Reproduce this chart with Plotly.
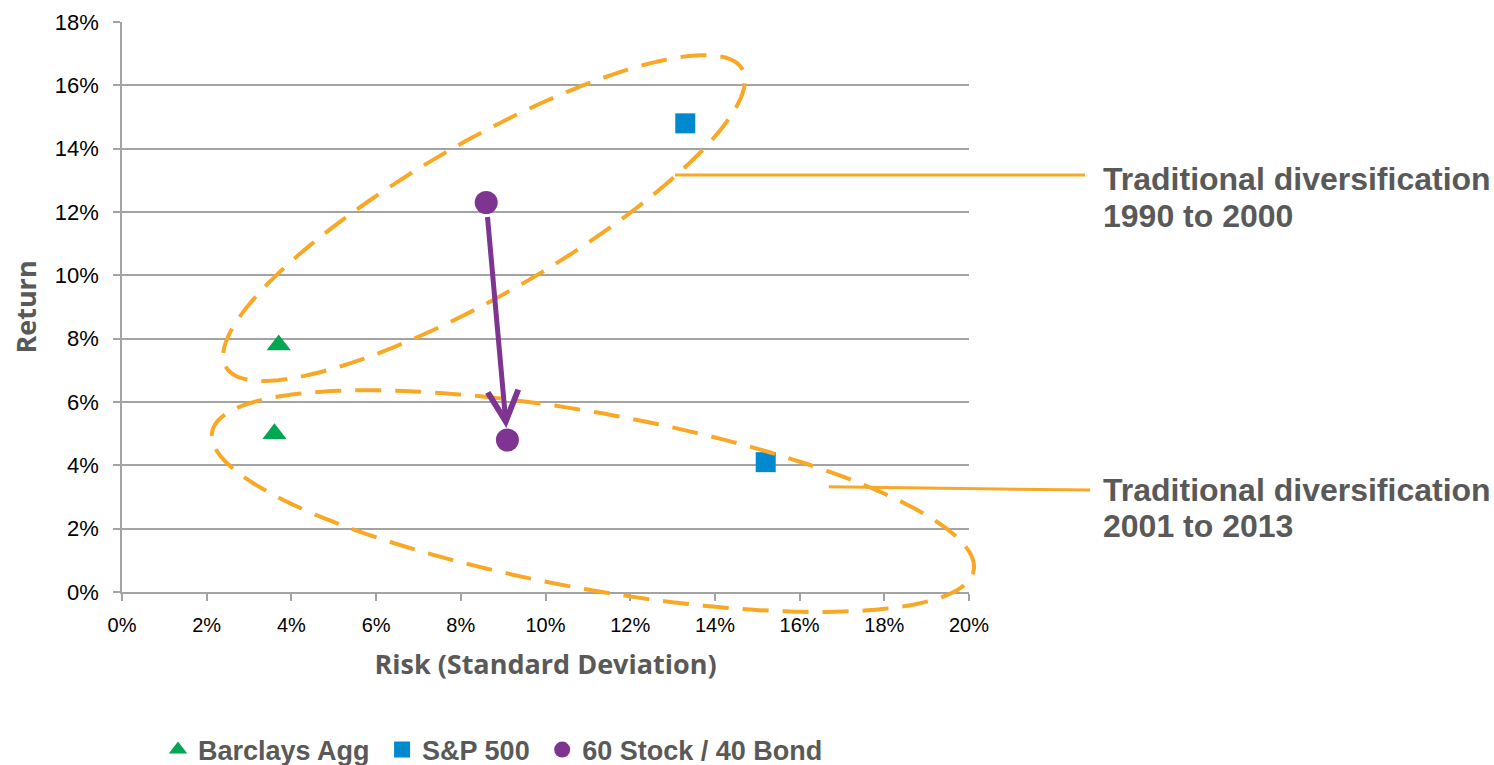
import numpy as np
import plotly.graph_objects as go

# Annualised risk (standard deviation, %) and return (%) for each asset,
# first point = 1990 to 2000, second point = 2001 to 2013
barclays_risk = [3.7, 3.6]
barclays_return = [7.8, 5.0]
sp500_risk = [13.3, 15.2]
sp500_return = [14.8, 4.1]
mix_risk = [8.6, 9.1]
mix_return = [12.3, 4.8]

x_tick_values = [0, 2, 4, 6, 8, 10, 12, 14, 16, 18, 20]
y_tick_values = [0, 2, 4, 6, 8, 10, 12, 14, 16, 18]
x_tick_labels = [f"{v}%" for v in x_tick_values]
y_tick_labels = [f"{v}%" for v in y_tick_values]

period_labels = ["Traditional diversification", "1990 to 2000",
                 "Traditional diversification", "2001 to 2013"]

# Page geometry
W, H = 1494, 765
M_L, M_R, M_T, M_B = 122, 525, 22, 173
PW, PH = W - M_L - M_R, H - M_T - M_B
X_MAX, Y_MAX = 20, 18

GREEN = "#00A651"
BLUE = "#0089CF"
PURPLE = "#7E3591"
ORANGE = "#F9A825"
GRID = "#A3A3A3"
TEXT_GREY = "#595959"
NBSP = "\u00a0"


def to_paper(x, y):
    return x / X_MAX, y / Y_MAX


def px_to_paper(px, py):
    return (px - M_L) / PW, (M_T + PH - py) / PH


def ellipse_path(cx, cy, a_px, b_px, angle_deg, n=240):
    """Closed SVG path (paper coords) of an ellipse centred on a data point,
    with semi-axes given in screen pixels and a screen rotation angle."""
    t = np.linspace(0, 2 * np.pi, n)
    phi = np.radians(angle_deg)
    dx = a_px * np.cos(t) * np.cos(phi) - b_px * np.sin(t) * np.sin(phi)
    dy = a_px * np.cos(t) * np.sin(phi) + b_px * np.sin(t) * np.cos(phi)
    px0, py0 = to_paper(cx, cy)
    xs = px0 + dx / PW
    ys = py0 + dy / PH
    pts = [f"{x:.5f},{y:.5f}" for x, y in zip(xs, ys)]
    return "M" + " L".join(pts) + " Z"


fig = go.Figure()

fig.add_trace(go.Scatter(
    x=barclays_risk, y=barclays_return, mode="markers",
    name="Barclays Agg" + NBSP,
    marker=dict(symbol="triangle-up", size=21, color=GREEN),
))
fig.add_trace(go.Scatter(
    x=sp500_risk, y=sp500_return, mode="markers", name="S&P 500" + NBSP,
    marker=dict(symbol="square", size=20, color=BLUE),
))
fig.add_trace(go.Scatter(
    x=mix_risk, y=mix_return, mode="markers", name="60 Stock / 40 Bond",
    marker=dict(symbol="circle", size=23, color=PURPLE),
))

# Dashed rings around each period's cluster
shapes = [
    dict(type="path", xref="paper", yref="paper",
         path=ellipse_path(8.55, 11.81, 298, 76, 30),
         line=dict(color=ORANGE, width=4, dash="26px,14px")),
    dict(type="path", xref="paper", yref="paper",
         path=ellipse_path(11.12, 2.87, 387, 88, -10.3),
         line=dict(color=ORANGE, width=4, dash="26px,14px")),
]

# Callout leader lines
callouts = [((13.06, 13.17), (22.74, 13.17)), ((16.69, 3.32), (22.86, 3.22))]
for (x0, y0), (x1, y1) in callouts:
    p0 = to_paper(x0, y0)
    p1 = to_paper(x1, y1)
    shapes.append(dict(type="line", xref="paper", yref="paper",
                       x0=p0[0], y0=p0[1], x1=p1[0], y1=p1[1],
                       line=dict(color=ORANGE, width=3)))

annotations = []
label_px_y = [179, 216, 490, 526]
for txt, ly in zip(period_labels, label_px_y):
    ax_, ay_ = px_to_paper(1101, ly)
    annotations.append(dict(
        x=ax_, y=ay_, xref="paper", yref="paper", text=f"<b>{txt}</b>",
        showarrow=False, xanchor="left", yanchor="middle",
        font=dict(family="Liberation Sans, Arial", size=32, color=TEXT_GREY),
    ))

# Shift of the 60/40 portfolio between the two periods
annotations.append(dict(
    x=mix_risk[1], y=mix_return[1], ax=mix_risk[0], ay=mix_return[0],
    xref="x", yref="y", axref="x", ayref="y", text="",
    showarrow=True, arrowhead=5, arrowsize=1.2, arrowwidth=5,
    arrowcolor=PURPLE, standoff=12, startstandoff=13,
))

lx, ly = px_to_paper(158, 750)
fig.update_layout(
    width=W, height=H,
    margin=dict(l=M_L, r=M_R, t=M_T, b=M_B, autoexpand=False),
    paper_bgcolor="white", plot_bgcolor="white",
    shapes=shapes, annotations=annotations,
    showlegend=True,
    legend=dict(
        orientation="h", x=lx, xanchor="left",
        y=ly, yanchor="middle",
        font=dict(family="Liberation Sans, Arial", size=27, color=TEXT_GREY,
                  weight="bold"),
        itemwidth=30, bgcolor="rgba(0,0,0,0)",
    ),
    xaxis=dict(
        range=[0, X_MAX], tickvals=x_tick_values, ticktext=x_tick_labels,
        showgrid=False, zeroline=False, showline=True, linecolor=GRID,
        linewidth=1.5, ticks="outside", ticklen=7, tickcolor=GRID,
        tickwidth=1.5, ticklabelstandoff=7,
        tickfont=dict(family="Liberation Sans, Arial", size=20, color="black"),
        title=dict(text="<b>Risk (Standard Deviation)</b>", standoff=20,
                   font=dict(family="Open Sans", size=27, color=TEXT_GREY)),
        fixedrange=True,
    ),
    yaxis=dict(
        range=[0, Y_MAX], tickvals=y_tick_values, ticktext=y_tick_labels,
        showgrid=True, gridcolor=GRID, gridwidth=1.5, zeroline=False,
        showline=True, linecolor=GRID, linewidth=1.5, ticks="outside",
        ticklen=7, tickcolor=GRID, tickwidth=1.5, ticklabelstandoff=10,
        tickfont=dict(family="Liberation Sans, Arial", size=22, color="black"),
        title=dict(text="<b>Return</b>", standoff=10,
                   font=dict(family="Open Sans", size=27, color=TEXT_GREY)),
        fixedrange=True,
    ),
)

fig.write_html("out.html")
